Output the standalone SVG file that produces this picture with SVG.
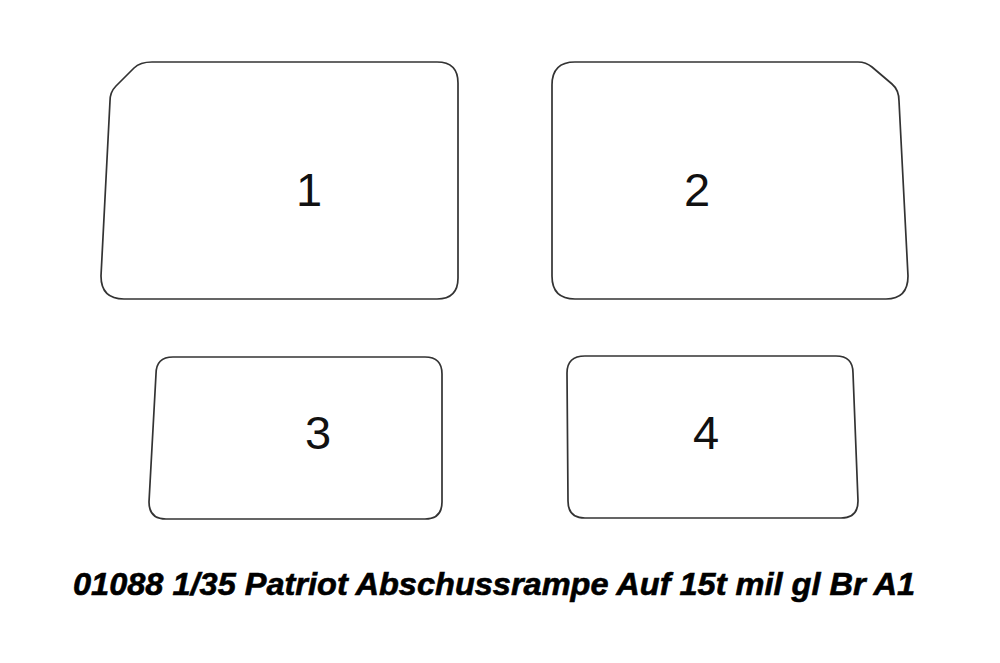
<svg xmlns="http://www.w3.org/2000/svg" width="1000" height="663" viewBox="0 0 1000 663">
  <style>
    .part { fill: #ffffff; stroke: #333333; stroke-width: 1.7; stroke-linejoin: round; }
    .num { font-family: "Liberation Sans", Arial, sans-serif; font-size: 47px; fill: #111111; text-anchor: middle; }
    .title { font-family: "Liberation Sans", Arial, sans-serif; font-size: 31px; font-weight: bold; font-style: italic; fill: #000000; stroke: #000000; stroke-width: 0.6; }
  </style>
  <rect x="0" y="0" width="1000" height="663" fill="#ffffff"/>
  <g id="part1">
    <path class="part" d="M 152,62 L 437,62 Q 458,62 458,83 L 458,278 Q 458,299 437,299 L 124,299 Q 101,299 101,276 L 110,101 Q 110,92 116,86 L 134,68 Q 140,62 152,62 Z"/>
    <text class="num" x="309" y="206">1</text>
  </g>
  <g id="part2">
    <path class="part" d="M 575,62 L 858,62 Q 866,62 872,67 L 892,84 Q 899,90 899,101 L 908,276 Q 908,299 886,299 L 575,299 Q 552,299 552,276 L 552,85 Q 552,62 575,62 Z"/>
    <text class="num" x="697" y="206">2</text>
  </g>
  <g id="part3">
    <path class="part" d="M 173,357 L 425,357 Q 442,357 442,374 L 442,502 Q 442,519 425,519 L 166,519 Q 149,519 149,502 L 156,374 Q 156,357 173,357 Z"/>
    <text class="num" x="318" y="449">3</text>
  </g>
  <g id="part4">
    <path class="part" d="M 585,356 L 836,356 Q 853,356 853,373 L 858,501 Q 858,518 841,518 L 585,518 Q 568,518 568,501 L 567,373 Q 567,356 585,356 Z"/>
    <text class="num" x="706" y="449">4</text>
  </g>
  <g id="connectors"/>
  <text class="title" x="73" y="595" textLength="842" lengthAdjust="spacingAndGlyphs">01088 1/35 Patriot Abschussrampe Auf 15t mil gl Br A1</text>
</svg>
